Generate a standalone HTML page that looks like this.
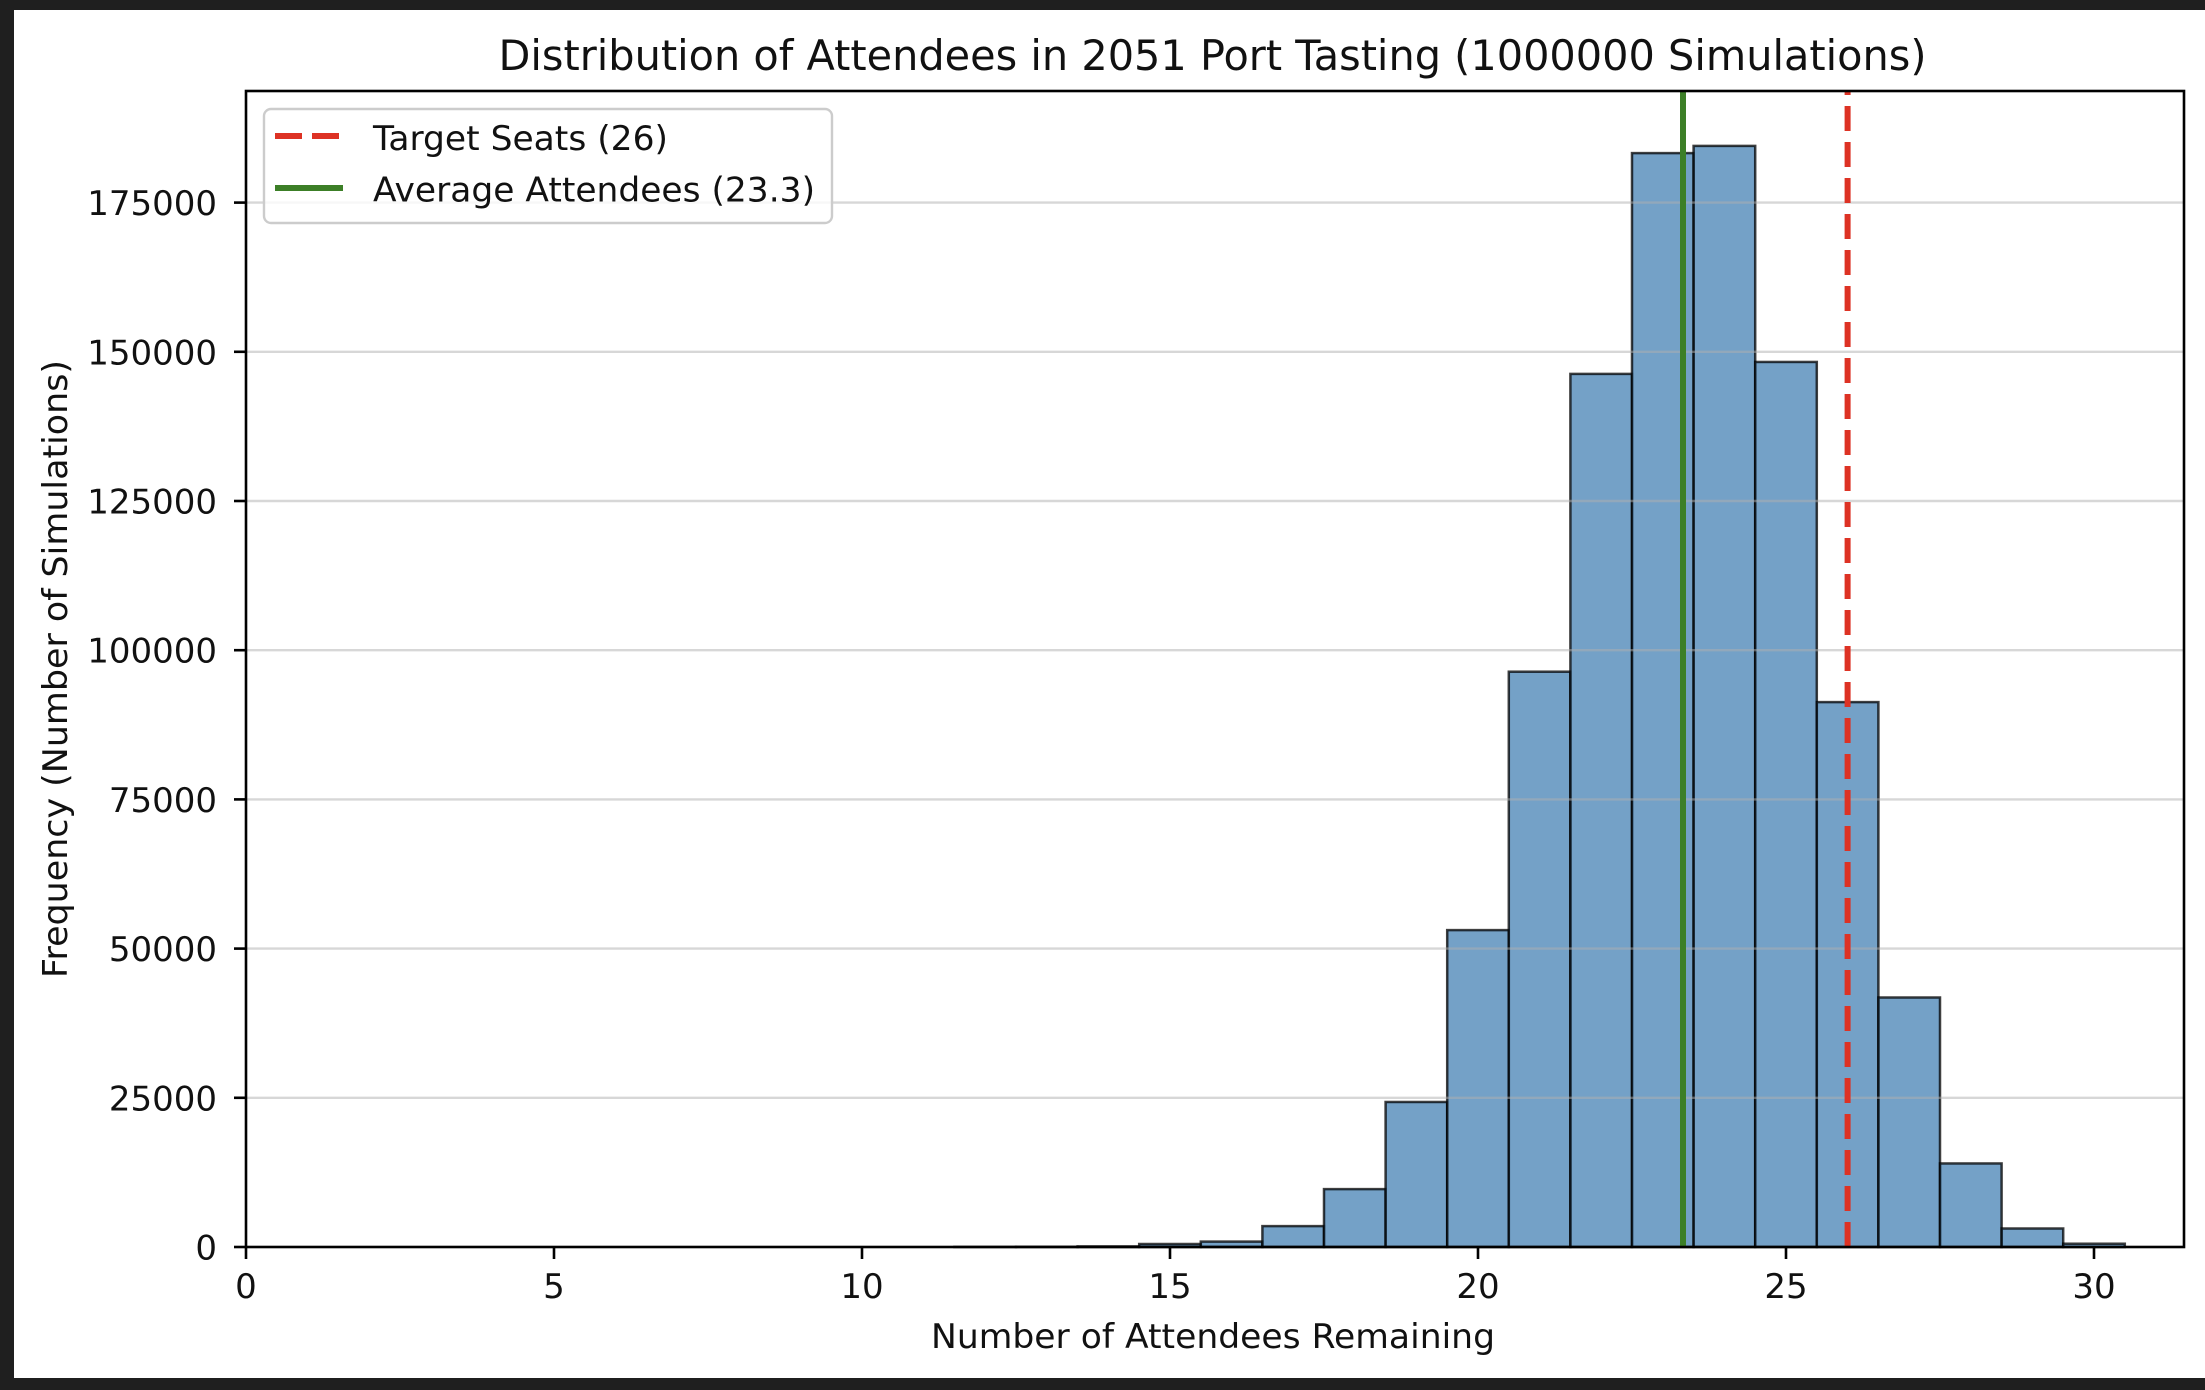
<!DOCTYPE html>
<html>
<head>
<meta charset="utf-8">
<style>
  html, body { margin:0; padding:0; background:#1f1f1f; }
  svg { display:block; }
  text { font-family: "DejaVu Sans", "Liberation Sans", sans-serif; fill:#111; }
</style>
</head>
<body>
<svg width="2205" height="1390" viewBox="0 0 2205 1390" xmlns="http://www.w3.org/2000/svg">
  <rect x="0" y="0" width="2205" height="1390" fill="#1f1f1f"/>
  <rect x="14" y="10" width="2191" height="1368" fill="#ffffff"/>

  <!-- Title -->
  <text x="1212.5" y="70" font-size="42" text-anchor="middle" textLength="1428" lengthAdjust="spacingAndGlyphs">Distribution of Attendees in 2051 Port Tasting (1000000 Simulations)</text>

  <!-- Bars -->
  <g fill="#4682b4" fill-opacity="0.75" stroke="#000" stroke-opacity="0.75" stroke-width="2.5">
    <rect x="954.4" y="1246.9" width="61.6" height="0.1"/>
    <rect x="1016" y="1246.76" width="61.6" height="0.24"/>
    <rect x="1077.6" y="1246.4" width="61.6" height="0.6"/>
    <rect x="1139.2" y="1244.0" width="61.6" height="3.0"/>
    <rect x="1200.8" y="1241.6" width="61.6" height="5.4"/>
    <rect x="1262.4" y="1226.11" width="61.6" height="20.89"/>
    <rect x="1324" y="1189.11" width="61.6" height="57.89"/>
    <rect x="1385.6" y="1101.98" width="61.6" height="145.02"/>
    <rect x="1447.2" y="930.1" width="61.6" height="316.9"/>
    <rect x="1508.8" y="671.7" width="61.6" height="575.3"/>
    <rect x="1570.4" y="373.9" width="61.6" height="873.1"/>
    <rect x="1632" y="153.1" width="61.6" height="1093.9"/>
    <rect x="1693.6" y="145.9" width="61.6" height="1101.1"/>
    <rect x="1755.2" y="361.95" width="61.6" height="885.05"/>
    <rect x="1816.8" y="702.1" width="61.6" height="544.9"/>
    <rect x="1878.4" y="997.5" width="61.6" height="249.5"/>
    <rect x="1940" y="1163.45" width="61.6" height="83.55"/>
    <rect x="2001.6" y="1228.5" width="61.6" height="18.5"/>
    <rect x="2063.2" y="1243.72" width="61.6" height="3.28"/>
  </g>

  <!-- Grid lines (y) -->
  <g stroke="#b0b0b0" stroke-opacity="0.5" stroke-width="2.4">
    <line x1="246" y1="1097.8" x2="2184" y2="1097.8"/>
    <line x1="246" y1="948.6" x2="2184" y2="948.6"/>
    <line x1="246" y1="799.4" x2="2184" y2="799.4"/>
    <line x1="246" y1="650.2" x2="2184" y2="650.2"/>
    <line x1="246" y1="501" x2="2184" y2="501"/>
    <line x1="246" y1="351.8" x2="2184" y2="351.8"/>
    <line x1="246" y1="202.6" x2="2184" y2="202.6"/>
  </g>

  <!-- Vertical lines -->
  <line x1="1847.6" y1="1247" x2="1847.6" y2="91" stroke="#dd3224" stroke-width="6" stroke-dasharray="25 11"/>
  <line x1="1683" y1="1247" x2="1683" y2="91" stroke="#3c7f27" stroke-width="6"/>

  <!-- Axes spines -->
  <rect x="246" y="91" width="1938" height="1156" fill="none" stroke="#000" stroke-width="2.6"/>

  <!-- X ticks -->
  <g stroke="#000" stroke-width="2.6">
    <line x1="246" y1="1247" x2="246" y2="1259"/>
    <line x1="554" y1="1247" x2="554" y2="1259"/>
    <line x1="862" y1="1247" x2="862" y2="1259"/>
    <line x1="1170" y1="1247" x2="1170" y2="1259"/>
    <line x1="1478" y1="1247" x2="1478" y2="1259"/>
    <line x1="1786" y1="1247" x2="1786" y2="1259"/>
    <line x1="2094" y1="1247" x2="2094" y2="1259"/>
  </g>
  <g font-size="34" text-anchor="middle">
    <text x="246" y="1298">0</text>
    <text x="554" y="1298">5</text>
    <text x="862" y="1298">10</text>
    <text x="1170" y="1298">15</text>
    <text x="1478" y="1298">20</text>
    <text x="1786" y="1298">25</text>
    <text x="2094" y="1298">30</text>
  </g>

  <!-- Y ticks -->
  <g stroke="#000" stroke-width="2.6">
    <line x1="234" y1="1247" x2="246" y2="1247"/>
    <line x1="234" y1="1097.8" x2="246" y2="1097.8"/>
    <line x1="234" y1="948.6" x2="246" y2="948.6"/>
    <line x1="234" y1="799.4" x2="246" y2="799.4"/>
    <line x1="234" y1="650.2" x2="246" y2="650.2"/>
    <line x1="234" y1="501" x2="246" y2="501"/>
    <line x1="234" y1="351.8" x2="246" y2="351.8"/>
    <line x1="234" y1="202.6" x2="246" y2="202.6"/>
  </g>
  <g font-size="34" text-anchor="end">
    <text x="217" y="1259.5">0</text>
    <text x="217" y="1110.3">25000</text>
    <text x="217" y="961.1">50000</text>
    <text x="217" y="811.9">75000</text>
    <text x="217" y="662.7">100000</text>
    <text x="217" y="513.5">125000</text>
    <text x="217" y="364.3">150000</text>
    <text x="217" y="215.1">175000</text>
  </g>

  <!-- Axis labels -->
  <text x="1213" y="1348" font-size="34" text-anchor="middle" textLength="564" lengthAdjust="spacingAndGlyphs">Number of Attendees Remaining</text>
  <text transform="translate(67,669) rotate(-90)" x="0" y="0" font-size="34" text-anchor="middle" textLength="618" lengthAdjust="spacingAndGlyphs">Frequency (Number of Simulations)</text>

  <!-- Legend -->
  <rect x="264" y="109" width="568" height="114" rx="7" ry="7" fill="#ffffff" fill-opacity="0.8" stroke="#cccccc" stroke-width="2.4"/>
  <line x1="275" y1="136" x2="343" y2="136" stroke="#dd3224" stroke-width="6" stroke-dasharray="27 10"/>
  <line x1="275" y1="188" x2="343" y2="188" stroke="#3c7f27" stroke-width="6"/>
  <text x="373" y="150" font-size="34" textLength="295" lengthAdjust="spacingAndGlyphs">Target Seats (26)</text>
  <text x="373" y="201.5" font-size="34" textLength="442" lengthAdjust="spacingAndGlyphs">Average Attendees (23.3)</text>
</svg>
</body>
</html>
